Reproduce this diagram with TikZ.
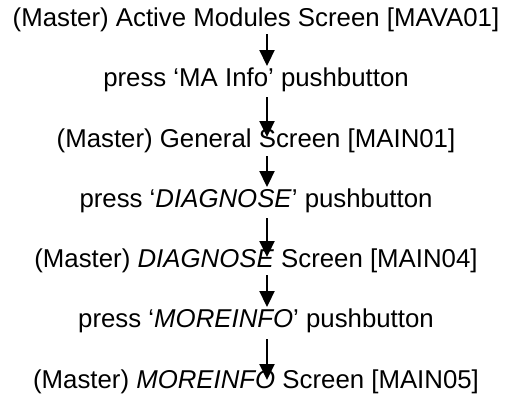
\documentclass[tikz,border=0pt]{standalone}
\usepackage{fontspec}
\setmainfont{Liberation Sans}
\usetikzlibrary{arrows.meta,calc}
\tikzset{
  lbl/.style={anchor=base,inner sep=0pt,font=\fontsize{25.8}{30}\selectfont},
  arr/.style={line width=2.2pt,-{Triangle[width=15pt,length=16pt]}}
}
\begin{document}
\begin{tikzpicture}[x=1pt,y=1pt]
\useasboundingbox (0,0) rectangle (505,-408);
\node[lbl] (l1) at (256,-26) {(Master) Active Modules Screen [MAVA01]};
\node[lbl] (l2) at (256,-86) {press ‘MA Info’ pushbutton};
\node[lbl] (l3) at (256,-147) {(Master) General Screen [MAIN01]};
\node[lbl] (l4) at (256,-207) {press ‘\textit{DIAGNOSE}’ pushbutton};
\node[lbl] (l5) at (256,-267) {(Master) \textit{DIAGNOSE} Screen [MAIN04]};
\node[lbl] (l6) at (256,-327) {press ‘\textit{MOREINFO}’ pushbutton};
\node[lbl] (l7) at (256,-388) {(Master) \textit{MOREINFO} Screen [MAIN05]};
\draw[arr] ($(l1.base)+(11,-8)$) -- ($(l2.base)+(11,20)$);
\draw[arr] ($(l2.base)+(11,-11)$) -- ($(l3.base)+(11,10)$);
\draw[arr] ($(l3.base)+(11,-9)$) -- ($(l4.base)+(11,20)$);
\draw[arr] ($(l4.base)+(11,-11)$) -- ($(l5.base)+(11,10)$);
\draw[arr] ($(l5.base)+(11,-8)$) -- ($(l6.base)+(11,20)$);
\draw[arr] ($(l6.base)+(11,-12)$) -- ($(l7.base)+(11,8)$);
\end{tikzpicture}
\end{document}
